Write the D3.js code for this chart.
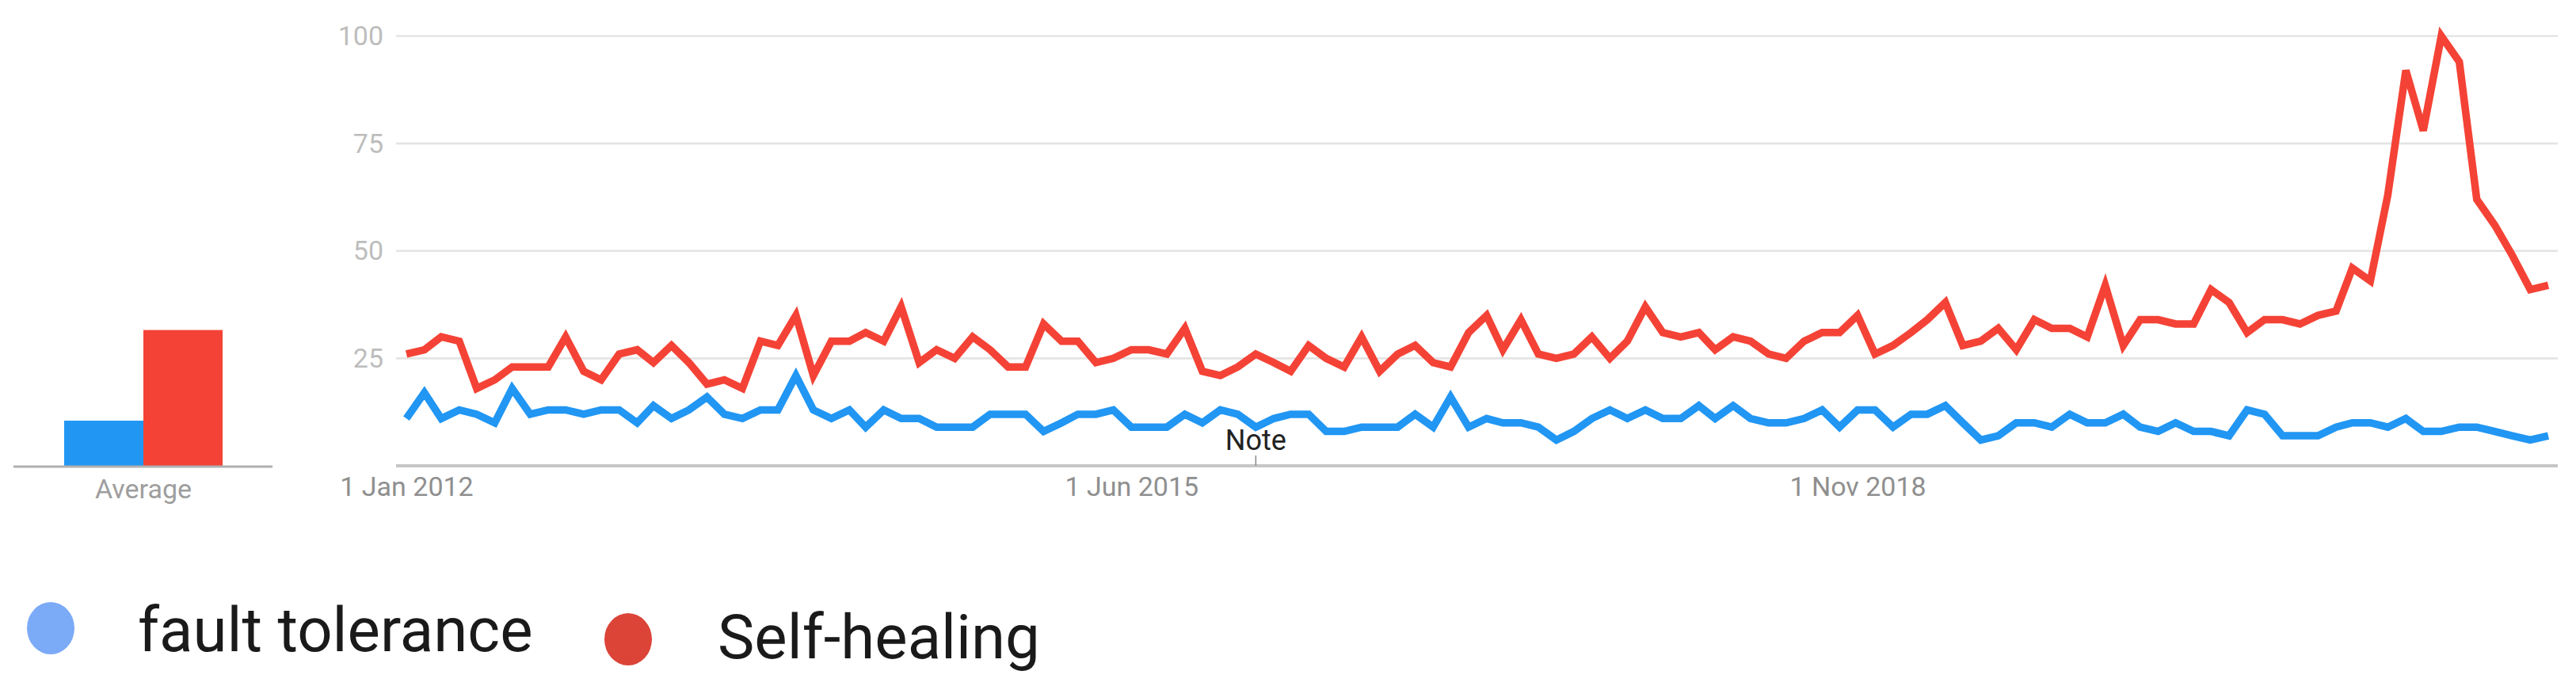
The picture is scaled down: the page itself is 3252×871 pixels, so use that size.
<!DOCTYPE html>
<html>
<head>
<meta charset="utf-8">
<script src="https://cdn.jsdelivr.net/npm/d3@7"></script>
<style>
body { margin: 0; background: #fff; }
text { font-family: Roboto, "Noto Sans", sans-serif; }
</style>
</head>
<body>
<div id="chart"></div>
<script>
// search interest, monthly, Jan 2012 -> Feb 2022
var seriesNames = ["fault tolerance", "Self-healing"];
var firstMonth = "2012-01-01";

var faultTolerance = [
	11,17,11,13,12,10,18,12,13,13,12,13,13,10,14,11,13,16,12,11,13,
	13,21,13,11,13,9,13,11,11,9,9,9,12,12,12,8,10,12,12,13,9,
	9,9,12,10,13,12,9,11,12,12,8,8,9,9,9,12,9,16,9,11,10,
	10,9,6,8,11,13,11,13,11,11,14,11,14,11,10,10,11,13,9,13,
	13,9,12,12,14,10,6,7,10,10,9,12,10,10,12,9,8,10,8,8,7,
	13,12,7,7,7,9,10,10,9,11,8,8,9,9,8,7,6,7
];
var selfHealing = [
	26,27,30,29,18,20,23,23,23,30,22,20,26,27,24,28,24,19,20,18,29,
	28,35,21,29,29,31,29,37,24,27,25,30,27,23,23,33,29,29,24,25,27,
	27,26,32,22,21,23,26,24,22,28,25,23,30,22,26,28,24,23,31,35,27,
	34,26,25,26,30,25,29,37,31,30,31,27,30,29,26,25,29,31,31,35,
	26,28,31,34,38,28,29,32,27,34,32,32,30,42,28,34,34,33,33,41,38,
	31,34,34,33,35,36,46,43,63,92,78,100,94,62,56,49,41,42
];
var averages = [10.5, 31.6];

var yTicks = [0, 25, 50, 75, 100];
var xTickDates = ["2012-01-01", "2015-06-01", "2018-11-01"];
var noteDate = "2016-01-01";

var lineColors = ["#2196f3", "#f44336"];
var legendColors = ["#7baaf7", "#db4437"];

var width = 3252,
	height = 871;

var svg = d3.select("#chart").append("svg")
	.attr("width", width)
	.attr("height", height)
	.style("display", "block");

svg.append("rect").attr("width", width).attr("height", height).attr("fill", "#fff");

var parse = d3.timeParse("%Y-%m-%d");
var start = parse(firstMonth);
var months = faultTolerance.map(function(d, i){ return d3.timeMonth.offset(start, i); });

// shared value scale for the bars and the lines
var y = d3.scaleLinear().domain([0, 100]).range([588, 45.5]);

var x = d3.scaleTime()
	.domain([months[0], months[months.length - 1]])
	.range([513, 3217]);

var plotLeft = 500, plotRight = 3229;

//gridlines
svg.append("g")
	.selectAll("line")
	.data(yTicks.filter(function(d){ return d > 0; }))
	.enter().append("line")
	.attr("x1", plotLeft).attr("x2", plotRight)
	.attr("y1", function(d){ return y(d); })
	.attr("y2", function(d){ return y(d); })
	.attr("stroke", "#e4e4e4")
	.attr("stroke-width", 2.6);

// y labels
var yAxis = svg.append("g")
	.attr("transform", "translate(484,0)")
	.call(d3.axisLeft(y).tickValues(yTicks.filter(function(d){ return d > 0; })).tickSize(0).tickPadding(0));
yAxis.select(".domain").remove();
yAxis.selectAll("text")
	.attr("font-family", "Roboto, sans-serif")
	.attr("font-size", 34)
	.attr("fill", "#bdbdbd");

// x labels
var xAxis = svg.append("g")
	.attr("transform", "translate(0,602)")
	.call(d3.axisBottom(x)
		.tickValues(xTickDates.map(parse))
		.tickFormat(d3.timeFormat("%-d %b %Y"))
		.tickSize(0).tickPadding(0));
xAxis.select(".domain").remove();
xAxis.selectAll("text")
	.attr("font-family", "Roboto, sans-serif")
	.attr("font-size", 34)
	.attr("dy", "0.71em")
	.attr("fill", "#8f8f8f");

// baseline
svg.append("line")
	.attr("x1", plotLeft).attr("x2", plotRight)
	.attr("y1", y(0)).attr("y2", y(0))
	.attr("stroke", "#c6c6c6")
	.attr("stroke-width", 4);

// note marker
var nx = x(parse(noteDate));
svg.append("line")
	.attr("x1", nx).attr("x2", nx)
	.attr("y1", 575).attr("y2", y(0))
	.attr("stroke", "#888")
	.attr("stroke-width", 1.5);
svg.append("text")
	.attr("x", nx).attr("y", 568)
	.attr("text-anchor", "middle")
	.attr("font-size", 36)
	.attr("fill", "#222")
	.text("Note");

// lines
var line = d3.line()
	.x(function(d, i){ return x(months[i]); })
	.y(function(d){ return y(d); });

[faultTolerance, selfHealing].forEach(function(s, k){
	svg.append("path")
		.datum(s)
		.attr("d", line)
		.attr("fill", "none")
		.attr("stroke", lineColors[k])
		.attr("stroke-width", 9.5)
		.attr("stroke-linejoin", "miter");
});

// average bars
var bx = d3.scaleBand().domain(seriesNames).range([81, 281]).padding(0);

svg.append("g")
	.selectAll("rect")
	.data(averages)
	.enter().append("rect")
	.attr("x", function(d, i){ return bx(seriesNames[i]); })
	.attr("width", bx.bandwidth())
	.attr("y", function(d){ return y(d); })
	.attr("height", function(d){ return y(0) - y(d); })
	.attr("fill", function(d, i){ return lineColors[i]; });

svg.append("line")
	.attr("x1", 17).attr("x2", 344)
	.attr("y1", y(0) + 1).attr("y2", y(0) + 1)
	.attr("stroke", "#b0b0b0")
	.attr("stroke-width", 3);

svg.append("text")
	.attr("x", 181).attr("y", 629)
	.attr("text-anchor", "middle")
	.attr("font-size", 34)
	.attr("fill", "#9e9e9e")
	.text("Average");

// legend
var legendPos = [
	{cx: 64, cy: 793, tx: 174, ty: 822},
	{cx: 793, cy: 807, tx: 906, ty: 831}
];
var leg = svg.append("g")
	.selectAll("g")
	.data(seriesNames)
	.enter().append("g");

leg.append("ellipse")
	.attr("cx", function(d, i){ return legendPos[i].cx; })
	.attr("cy", function(d, i){ return legendPos[i].cy; })
	.attr("rx", 30)
	.attr("ry", 33)
	.attr("fill", function(d, i){ return legendColors[i]; });

leg.append("text")
	.attr("x", function(d, i){ return legendPos[i].tx; })
	.attr("y", function(d, i){ return legendPos[i].ty; })
	.attr("font-size", 78)
	.attr("fill", "#1a1a1a")
	.text(function(d){ return d; });
</script>
</body>
</html>
